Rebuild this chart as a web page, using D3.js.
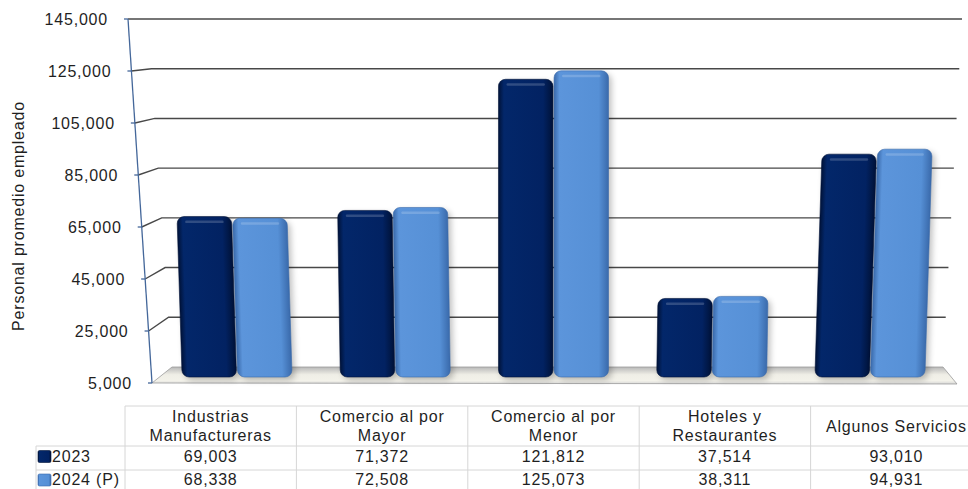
<!DOCTYPE html>
<html>
<head>
<meta charset="utf-8">
<script src="https://cdn.jsdelivr.net/npm/d3@7"></script>
<style>
  html, body { margin: 0; padding: 0; background: #ffffff; }
  svg { display: block; font-family: "Liberation Sans", Arial, sans-serif; }
  .lbl { font-size: 16px; letter-spacing: 0.8px; fill: #1f1f1f; }
</style>
</head>
<body>
<svg id="chart" width="968" height="489"></svg>
<script>
// ---- data ----
const categories = ["Industrias\nManufactureras", "Comercio al por\nMayor", "Comercio al por\nMenor", "Hoteles y\nRestaurantes", "Algunos Servicios"];
const seriesNames = ["2023", "2024 (P)"];
const values2023 = [69003, 71372, 121812, 37514, 93010];
const values2024 = [68338, 72508, 125073, 38311, 94931];
const yTicks = [5000, 25000, 45000, 65000, 85000, 105000, 125000, 145000];
const yTitle = "Personal promedio empleado";

// ---- setup ----
const svg = d3.select("#chart");
const W = 968, H = 489;
const fmt = d3.format(",");

const y = d3.scaleLinear().domain([5000, 145000]).range([383, 19]);
const depthT = d3.scaleLinear().domain([145000, 5000]).range([0, 1]);
const xFront = v => 128 + 24 * depthT(v);
const xBack = v => 148 + 24 * depthT(v);
const yBack = v => y(v) - 16 * depthT(v);
const xRight = v => 962 - 19 * depthT(v);

const x0 = d3.scaleBand().domain(categories).range([158, 949]);
const x1 = d3.scaleBand().domain(seriesNames).range([-55, 55]).paddingInner(0.02);
const colors = { "2023": ["#001646", "#03276a", "#022262", "#001238"], "2024 (P)": ["#3d70b4", "#5c95db", "#5690d6", "#3a6aab"] };

const defs = svg.append("defs");
seriesNames.forEach((s, i) => {
  const g = defs.append("linearGradient").attr("id", "bar" + i).attr("x1", "0").attr("x2", "1").attr("y1", "0").attr("y2", "0");
  const c = colors[s];
  g.append("stop").attr("offset", "0").attr("stop-color", c[3]);
  g.append("stop").attr("offset", "0.1").attr("stop-color", c[1]);
  g.append("stop").attr("offset", "0.82").attr("stop-color", c[2]);
  g.append("stop").attr("offset", "1").attr("stop-color", c[3]);
});
const fg = defs.append("linearGradient").attr("id", "floor").attr("x1", "0").attr("x2", "0").attr("y1", "0").attr("y2", "1");
fg.append("stop").attr("offset", "0").attr("stop-color", "#b8b8b8");
fg.append("stop").attr("offset", "0.45").attr("stop-color", "#efeee6");
fg.append("stop").attr("offset", "0.8").attr("stop-color", "#f3f2ea");
fg.append("stop").attr("offset", "1").attr("stop-color", "#d8d8d8");
const blur = defs.append("filter").attr("id", "shadow").attr("x", "-20%").attr("y", "-20%").attr("width", "140%").attr("height", "140%");
blur.append("feGaussianBlur").attr("stdDeviation", 3);

// ---- gridlines (back wall) ----
const gridTicks = yTicks.filter(v => v > 5000);
svg.append("g").selectAll("path").data(gridTicks).join("path")
  .attr("d", v => `M${xFront(v)},${y(v)}L${xBack(v)},${yBack(v)}L${xRight(v)},${yBack(v)}`)
  .attr("fill", "none").attr("stroke", "#484848").attr("stroke-width", 1.4);

// ---- floor ----
const vMin = yTicks[0];
svg.append("path")
  .attr("d", `M${xFront(vMin)},${y(vMin)}L${xBack(vMin)},${yBack(vMin)}L${xRight(vMin)},${yBack(vMin)}L${xRight(vMin) + 14},${y(vMin) + 1}Z`)
  .attr("fill", "url(#floor)").attr("stroke", "#9a9a9a").attr("stroke-width", 0.8);

// ---- axis ----
svg.append("line")
  .attr("x1", xFront(yTicks[yTicks.length - 1])).attr("y1", y(yTicks[yTicks.length - 1]))
  .attr("x2", xFront(vMin)).attr("y2", y(vMin))
  .attr("stroke", "#44679a").attr("stroke-width", 1.3);
svg.append("g").selectAll("line").data(yTicks).join("line")
  .attr("x1", v => xFront(v) - 4).attr("x2", v => xFront(v))
  .attr("y1", v => y(v)).attr("y2", v => y(v))
  .attr("stroke", "#44679a").attr("stroke-width", 1.3);
svg.append("g").selectAll("text").data(yTicks).join("text")
  .attr("class", "lbl")
  .attr("x", v => xFront(v) - 20).attr("y", v => y(v) + 6)
  .attr("text-anchor", "end").text(v => fmt(v));

svg.append("text").attr("class", "lbl")
  .attr("transform", `translate(24,${(y(5000) + y(145000)) / 2 + 15}) rotate(-90)`)
  .attr("text-anchor", "middle").text(yTitle);

// ---- bars ----
const data = [];
categories.forEach((c, i) => {
  data.push({ c, s: seriesNames[0], si: 0, v: values2023[i] });
  data.push({ c, s: seriesNames[1], si: 1, v: values2024[i] });
});
const centerX = (x0.range()[0] + x0.range()[1]) / 2;
const barBottom = y(vMin) - 6;
const bars = svg.append("g").selectAll("g").data(data).join("g")
  .attr("transform", d => {
    const cx = x0(d.c) + x0.bandwidth() / 2;
    const lean = (cx - centerX) * 0.0001;
    const ang = Math.atan(-lean) * 180 / Math.PI;
    return `translate(${cx},${barBottom}) skewX(${ang})`;
  });
bars.append("rect")
  .attr("x", d => x1(d.s) + 3).attr("width", x1.bandwidth())
  .attr("y", d => y(d.v) - barBottom + 3).attr("height", d => barBottom - y(d.v))
  .attr("rx", 7).attr("fill", "#000").attr("opacity", 0.25).attr("filter", "url(#shadow)");
bars.append("rect")
  .attr("x", d => x1(d.s)).attr("width", x1.bandwidth())
  .attr("y", d => y(d.v) - barBottom).attr("height", d => barBottom - y(d.v))
  .attr("rx", 7).attr("fill", d => `url(#bar${d.si})`)
  .attr("stroke", d => colors[d.s][3]).attr("stroke-width", 0.6);
bars.append("rect")
  .attr("x", d => x1(d.s) + 8).attr("width", x1.bandwidth() - 16)
  .attr("y", d => y(d.v) - barBottom + 4).attr("height", 2.5)
  .attr("rx", 1.2).attr("fill", "#ffffff").attr("opacity", 0.18);

// ---- data table ----
const tx = d3.scaleBand().domain(categories).range([125, 982]);
const tTop = 406, tHead = 446, tRow1 = 470, tRow2 = 494;
const gridC = "#d6d6d6";
const tbl = svg.append("g");
tbl.append("line").attr("x1", tx.range()[0]).attr("x2", W).attr("y1", tTop).attr("y2", tTop).attr("stroke", gridC);
[tHead, tRow1].forEach(yy => tbl.append("line").attr("x1", 36).attr("x2", W).attr("y1", yy).attr("y2", yy).attr("stroke", gridC));
tbl.append("line").attr("x1", 36).attr("x2", 36).attr("y1", tHead).attr("y2", tRow2).attr("stroke", gridC);
tbl.selectAll(".vl").data(categories).join("line").attr("class", "vl")
  .attr("x1", c => tx(c)).attr("x2", c => tx(c)).attr("y1", tTop).attr("y2", tRow2).attr("stroke", gridC);

// header texts
categories.forEach(c => {
  const lines = c.split("\n");
  const cx = tx(c) + tx.bandwidth() / 2;
  const t = tbl.append("text").attr("class", "lbl").attr("text-anchor", "middle");
  if (lines.length === 2) {
    t.append("tspan").attr("x", cx).attr("y", 422).text(lines[0]);
    t.append("tspan").attr("x", cx).attr("y", 440.5).text(lines[1]);
  } else {
    t.append("tspan").attr("x", cx).attr("y", 431.5).text(lines[0]);
  }
});
// value rows
[values2023, values2024].forEach((vals, si) => {
  const by = si === 0 ? 461.5 : 485;
  tbl.selectAll(".v" + si).data(categories).join("text").attr("class", "lbl v" + si)
    .attr("x", c => tx(c) + tx.bandwidth() / 2).attr("y", by)
    .attr("text-anchor", "middle").text((c, i) => fmt(vals[i]));
  tbl.append("rect").attr("x", 38).attr("y", by - 11).attr("width", 13).attr("height", 12)
    .attr("rx", 1.5).attr("fill", `url(#bar${si})`).attr("stroke", colors[seriesNames[si]][3]).attr("stroke-width", 0.6);
  tbl.append("text").attr("class", "lbl").attr("x", 52).attr("y", by).text(seriesNames[si]);
});
</script>
</body>
</html>
